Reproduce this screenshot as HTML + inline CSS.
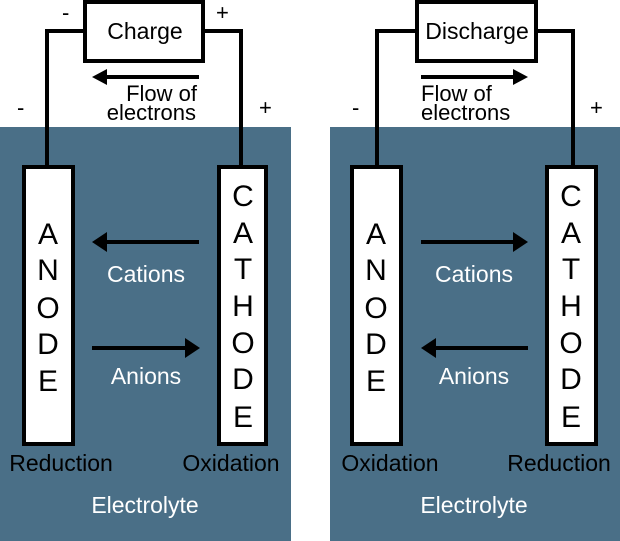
<!DOCTYPE html>
<html><head><style>
html,body{margin:0;padding:0;background:#fff;}
svg{display:block;}
text{font-family:"Liberation Sans",sans-serif;}
</style></head><body>
<svg width="620" height="541" viewBox="0 0 620 541" xmlns="http://www.w3.org/2000/svg">
<rect x="0" y="127" width="291" height="414" fill="#4a6f87"/>
<rect x="330" y="127" width="290" height="414" fill="#4a6f87"/>
<g fill="none" stroke="#000" stroke-width="4">
<polyline points="47,167 47,31 83,31"/>
<polyline points="205,31 241,31 241,167"/>
<polyline points="377,167 377,31 415,31"/>
<polyline points="538,31 573,31 573,167"/>
</g>
<g fill="#fff" stroke="#000" stroke-width="4">
<rect x="85" y="2" width="118" height="59"/>
<rect x="417" y="2" width="119" height="59"/>
<rect x="24" y="167" width="49" height="277"/>
<rect x="219" y="167" width="47" height="277"/>
<rect x="352" y="167" width="49" height="277"/>
<rect x="547" y="167" width="49" height="277"/>
</g>
<g stroke="#000" stroke-width="4">
<line x1="105" y1="77" x2="199" y2="77"/>
<line x1="421" y1="77" x2="515" y2="77"/>
<line x1="105" y1="242" x2="199" y2="242"/>
<line x1="92" y1="348" x2="186" y2="348"/>
<line x1="421" y1="242" x2="515" y2="242"/>
<line x1="435" y1="348" x2="528" y2="348"/>
</g>
<g fill="#000">
<polygon points="92,77 107,69 107,85"/>
<polygon points="528,77 513,69 513,85"/>
<polygon points="92,242 107,232 107,252"/>
<polygon points="200,348 185,338 185,358"/>
<polygon points="528,242 513,232 513,252"/>
<polygon points="421,348 436,338 436,358"/>
</g>
<g font-size="23" fill="#000" text-anchor="middle">
<text x="145" y="39">Charge</text>
<text x="477" y="39">Discharge</text>
</g>
<g font-size="22" fill="#000">
<text x="197" y="101" text-anchor="end">Flow of</text>
<text x="196" y="120" text-anchor="end">electrons</text>
<text x="421" y="101">Flow of</text>
<text x="421" y="120">electrons</text>
<text x="62" y="20">-</text>
<text x="216" y="20">+</text>
<text x="17" y="115">-</text>
<text x="259" y="115">+</text>
<text x="352" y="115">-</text>
<text x="590" y="115">+</text>
</g>
<g font-size="30" fill="#000" text-anchor="middle">
<text x="48" y="244">A</text><text x="48" y="280">N</text><text x="48" y="318">O</text><text x="48" y="354">D</text><text x="48" y="391">E</text>
<text x="243" y="206">C</text><text x="243" y="243">A</text><text x="243" y="279">T</text><text x="243" y="316">H</text><text x="243" y="353">O</text><text x="243" y="389">D</text><text x="243" y="427">E</text>
<text x="376" y="244">A</text><text x="376" y="280">N</text><text x="376" y="318">O</text><text x="376" y="354">D</text><text x="376" y="391">E</text>
<text x="571" y="206">C</text><text x="571" y="243">A</text><text x="571" y="279">T</text><text x="571" y="316">H</text><text x="571" y="353">O</text><text x="571" y="389">D</text><text x="571" y="427">E</text>
</g>
<g font-size="23" fill="#fff" text-anchor="middle">
<text x="146" y="282">Cations</text>
<text x="146" y="384">Anions</text>
<text x="474" y="282">Cations</text>
<text x="474" y="384">Anions</text>
<text x="145" y="513">Electrolyte</text>
<text x="474" y="513">Electrolyte</text>
</g>
<g font-size="23" fill="#000" text-anchor="middle">
<text x="61" y="471">Reduction</text>
<text x="231" y="471">Oxidation</text>
<text x="390" y="471">Oxidation</text>
<text x="559" y="471">Reduction</text>
</g>
</svg>
</body></html>
